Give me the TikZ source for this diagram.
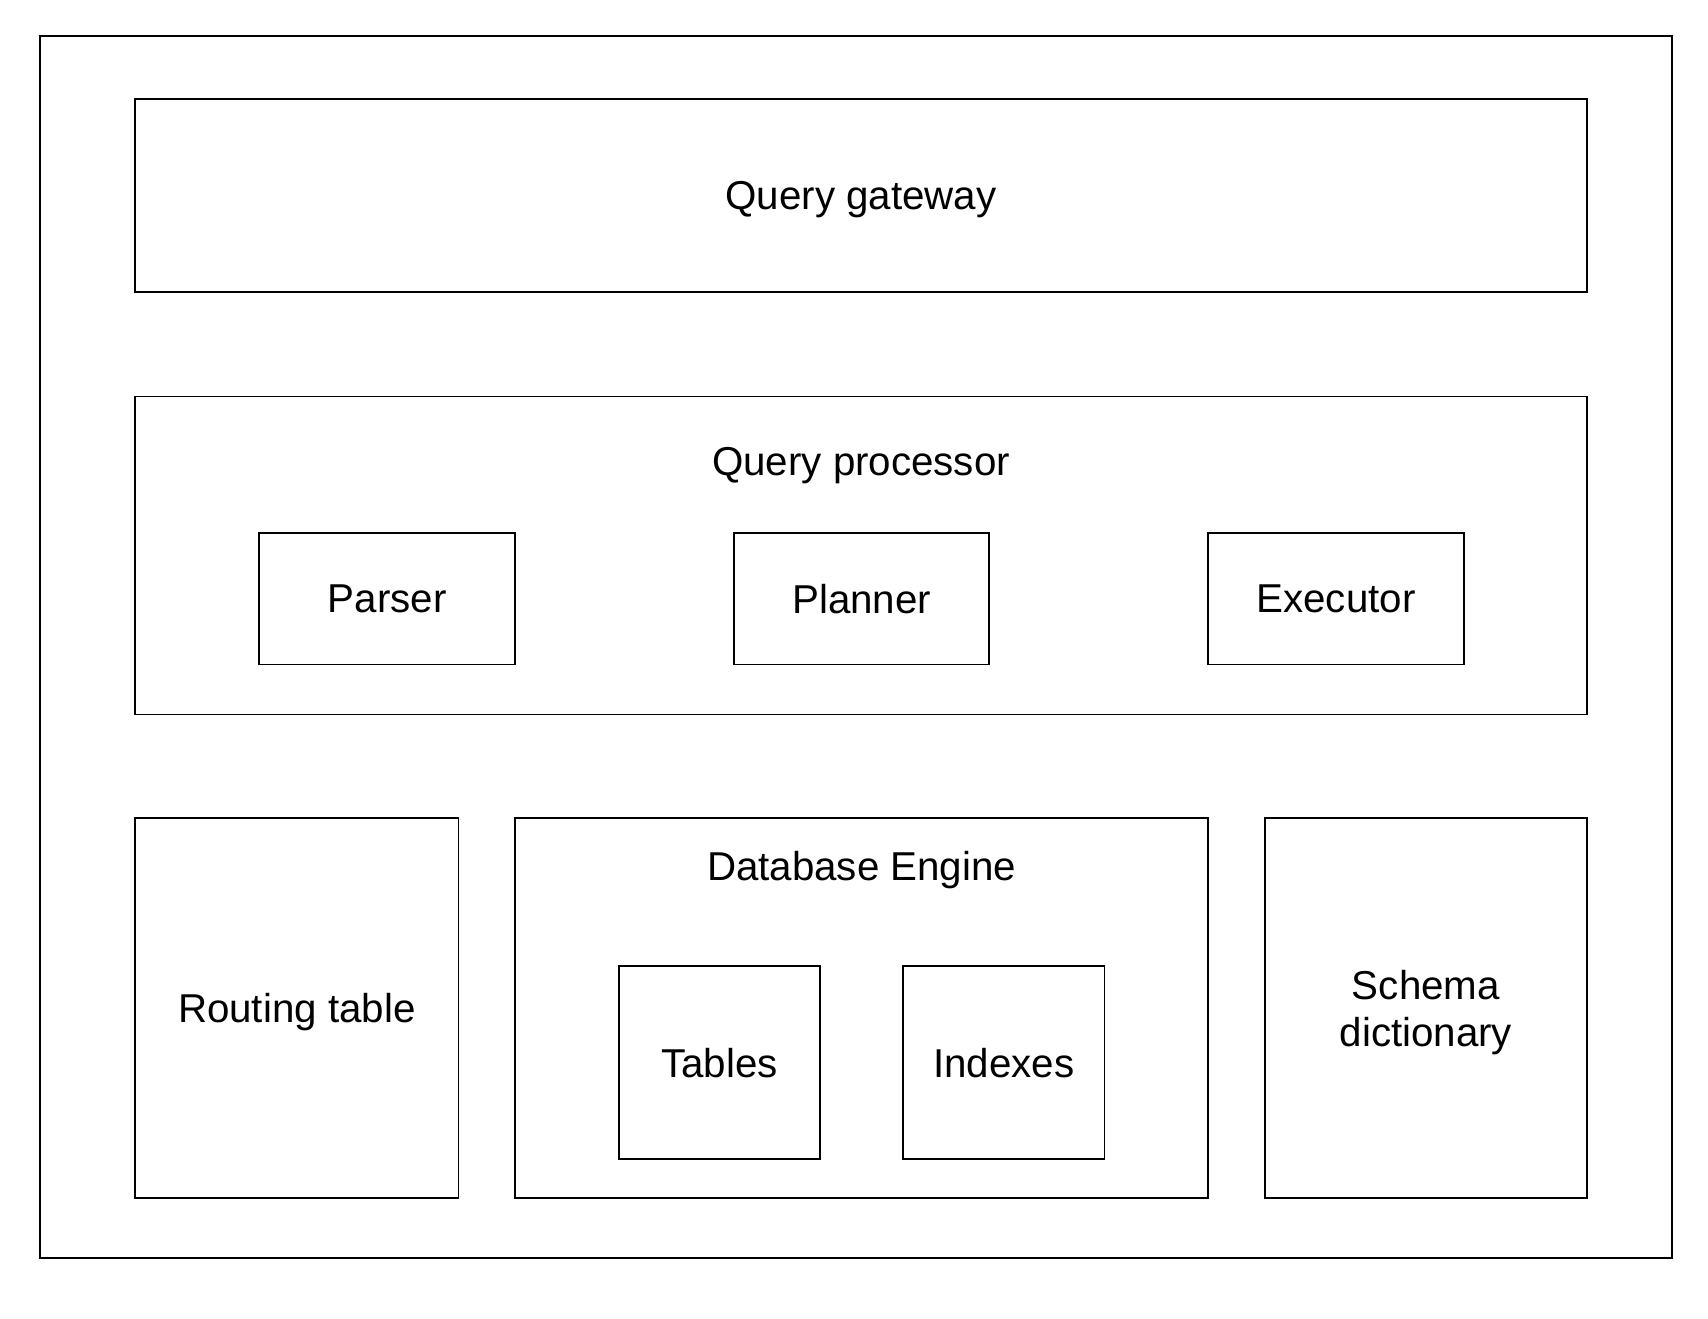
\documentclass[tikz,border=0pt]{standalone}
\usepackage{fontspec}
\setmainfont{Liberation Sans}
\begin{document}
\begin{tikzpicture}[x=1pt,y=-1pt,
  box/.style={draw=black,line width=1.6pt,rectangle,inner sep=0pt,align=center,
    text depth=0pt,font=\fontsize{37}{43}\selectfont},
  lbl/.style={inner sep=0pt,text depth=0pt,font=\fontsize{37}{43}\selectfont}]
\useasboundingbox (0,0) rectangle (1568,1210);
\node[box,minimum width=1498pt,minimum height=1122pt] (outer) at (786,594) {};
\node[box,minimum width=1333pt,minimum height=177pt] (gw) at (790.5,179.5) {Query gateway};
\node[box,minimum width=1333pt,minimum height=292pt] (qp) at (790.5,510) {};
\node[lbl] (qpl) at (790.5,424) {Query processor};
\node[box,minimum width=235pt,minimum height=121pt] (parser) at (355.5,549.5) {Parser};
\node[box,minimum width=234pt,minimum height=121pt] (planner) at (791,549.5) {Planner};
\node[box,minimum width=235pt,minimum height=121pt] (exec) at (1226.5,549.5) {Executor};
\node[box,minimum width=297pt,minimum height=349pt] (route) at (272.5,925.5) {Routing table};
\node[box,minimum width=636pt,minimum height=349pt] (db) at (791,925.5) {};
\node[lbl] (dbl) at (791,795) {Database Engine};
\node[box,minimum width=185pt,minimum height=177pt] (tables) at (660.5,975.5) {Tables};
\node[box,minimum width=185pt,minimum height=177pt] (idx) at (921.5,975.5) {Indexes};
\node[box,minimum width=296pt,minimum height=349pt] (schema) at (1309,925.5) {Schema\\dictionary};
\end{tikzpicture}
\end{document}
